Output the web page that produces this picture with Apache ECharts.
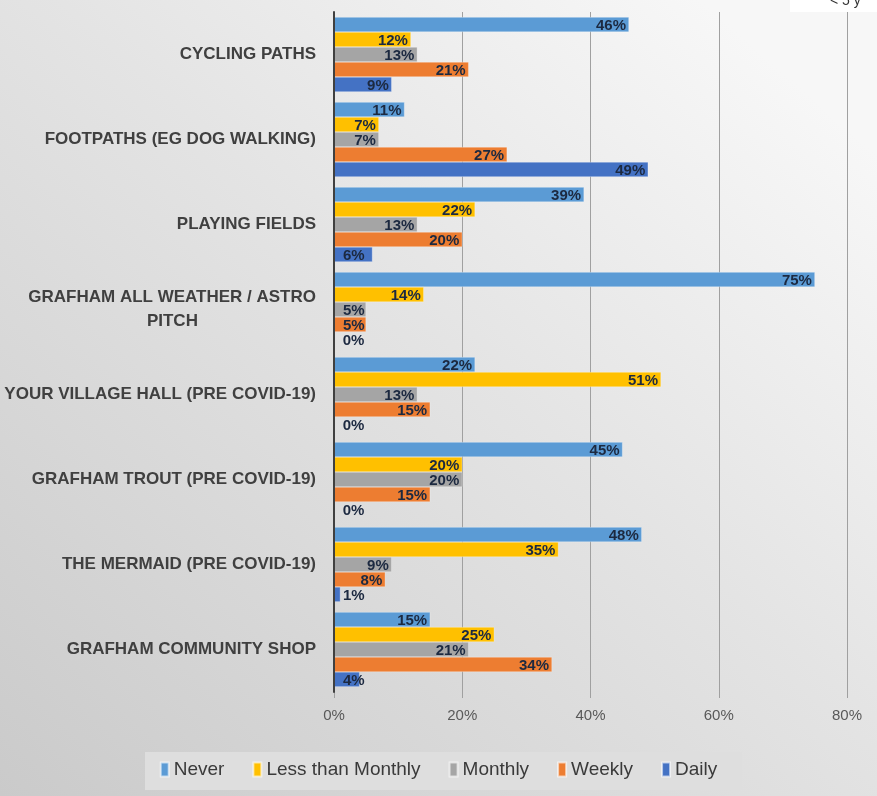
<!DOCTYPE html>
<html><head><meta charset="utf-8">
<script src="https://cdn.jsdelivr.net/npm/echarts@6/dist/echarts.min.js"></script>
<style>html,body{margin:0;padding:0;}#c{width:877px;height:796px;}</style>
</head><body><div id="c"></div>
<script>
const categories = [
  'CYCLING PATHS',
  'FOOTPATHS (EG DOG WALKING)',
  'PLAYING FIELDS',
  'GRAFHAM ALL WEATHER / ASTRO\nPITCH' + '\u00a0'.repeat(25),
  'YOUR VILLAGE HALL (PRE COVID-19)',
  'GRAFHAM TROUT (PRE COVID-19)',
  'THE MERMAID (PRE COVID-19)',
  'GRAFHAM COMMUNITY SHOP'
];
const seriesNames = ['Never', 'Less than Monthly', 'Monthly', 'Weekly', 'Daily'];
const never = [46, 11, 39, 75, 22, 45, 48, 15];
const lessThanMonthly = [12, 7, 22, 14, 51, 20, 35, 25];
const monthly = [13, 7, 13, 5, 13, 20, 9, 21];
const weekly = [21, 27, 20, 5, 15, 15, 8, 34];
const daily = [9, 49, 6, 0, 0, 0, 1, 4];
const xTicks = [0, 20, 40, 60, 80];

const colors = ['#5b9bd5', '#ffc000', '#a5a5a5', '#ed7d31', '#4472c4'];
const allData = [never, lessThanMonthly, monthly, weekly, daily];
const FONT = 'Liberation Sans, sans-serif';

const chart = echarts.init(document.getElementById('c'));
const series = allData.map((arr, i) => ({
  name: seriesNames[i],
  type: 'bar',
  barGap: '0%',
  barCategoryGap: '12%',
  itemStyle: { color: colors[i], borderColor: 'rgba(255,255,255,0.6)', borderWidth: 0.5 },
  label: {
    show: true, position: 'insideRight', distance: 3, offset: [0, 1],
    formatter: p => p.value + '%',
    color: '#1c2940', fontWeight: 'bold', fontSize: 15,
    fontFamily: FONT
  },
  data: arr.map(v => v < 7 ? {
    value: v,
    label: { position: 'insideLeft', distance: 9 }
  } : v)
}));

chart.setOption({
  animation: false,
  backgroundColor: {
    type: 'linear', x: 0, y: 1, x2: 0.8, y2: 0,
    colorStops: [{ offset: 0, color: '#cacaca' }, { offset: 0.6, color: '#e4e4e4' }, { offset: 1, color: '#f7f7f7' }]
  },
  color: colors,
  graphic: [
    { type: 'rect', shape: { x: 790, y: -2, width: 90, height: 14 }, style: { fill: '#ffffff' } },
    { type: 'text', style: { x: 830, y: -6, text: '< 5 y', fontSize: 14, fill: '#333', fontFamily: FONT } },
    { type: 'rect', z: -1, shape: { x: 145, y: 752, width: 597, height: 38 }, style: { fill: '#dedede' } }
  ],
  grid: { left: 334, right: 30, top: 12, bottom: 104, containLabel: false },
  legend: {
    bottom: 12, left: 'center',
    itemWidth: 8, itemHeight: 14, itemGap: 28,
    icon: 'rect',
    textStyle: { color: '#3a3a3a', fontSize: 19, fontFamily: FONT },
    data: seriesNames
  },
  xAxis: {
    type: 'value', min: 0, max: 80, interval: 20,
    axisLabel: { formatter: v => v + '%', color: '#595959', fontSize: 15, margin: 16, fontFamily: FONT },
    splitLine: { show: true, lineStyle: { color: '#a0a0a0', width: 1 } },
    axisLine: { show: false },
    axisTick: { show: true, length: 6, lineStyle: { color: '#a0a0a0' } }
  },
  yAxis: {
    type: 'category', inverse: true, data: categories, z: 10,
    axisLine: { show: true, lineStyle: { color: '#404040', width: 2 } },
    axisTick: { show: false },
    axisLabel: { color: '#404040', fontWeight: 'bold', fontSize: 17, margin: 18, lineHeight: 24,
      fontFamily: FONT }
  },
  series: series
});
</script></body></html>
